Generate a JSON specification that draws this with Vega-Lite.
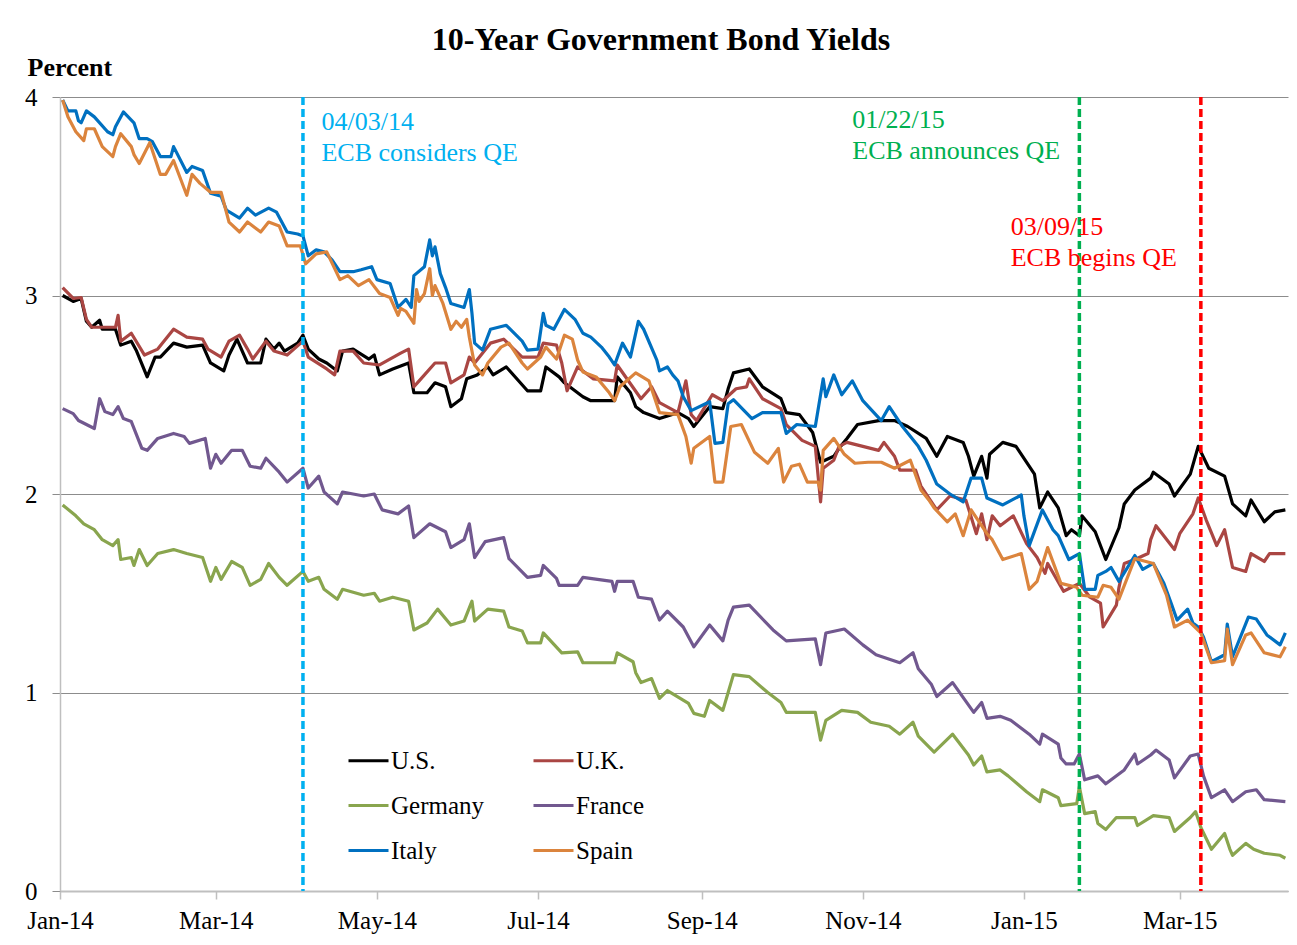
{
"$schema":"https://vega.github.io/schema/vega-lite/v6.json",
"autosize":"none",
"width":1228,"height":794,
"padding":{"left":60,"top":97,"right":9,"bottom":54},
"background":"white",
"title":{"text":"10-Year Government Bond Yields","font":"Liberation Serif","fontSize":32,"fontWeight":"bold","color":"#000000","anchor":"middle","frame":"group","dx":-13,"offset":-3},
"config":{"view":{"stroke":null},"font":"Liberation Serif"},
"resolve":{"axis":{"x":"independent","y":"independent"}},
"layer":[
{"data":{"values":[
{"d":"2014-01-02","c":"U.S.","v":3.00},{"d":"2014-01-06","c":"U.S.","v":2.97},{"d":"2014-01-09","c":"U.S.","v":2.985},{"d":"2014-01-11","c":"U.S.","v":2.87},{"d":"2014-01-13","c":"U.S.","v":2.84},{"d":"2014-01-16","c":"U.S.","v":2.875},{"d":"2014-01-17","c":"U.S.","v":2.83},{"d":"2014-01-22","c":"U.S.","v":2.83},{"d":"2014-01-24","c":"U.S.","v":2.75},{"d":"2014-01-28","c":"U.S.","v":2.77},{"d":"2014-01-30","c":"U.S.","v":2.72},{"d":"2014-02-03","c":"U.S.","v":2.59},{"d":"2014-02-06","c":"U.S.","v":2.69},{"d":"2014-02-08","c":"U.S.","v":2.69},{"d":"2014-02-13","c":"U.S.","v":2.76},{"d":"2014-02-18","c":"U.S.","v":2.74},{"d":"2014-02-24","c":"U.S.","v":2.75},{"d":"2014-02-27","c":"U.S.","v":2.66},{"d":"2014-03-04","c":"U.S.","v":2.62},{"d":"2014-03-06","c":"U.S.","v":2.70},{"d":"2014-03-09","c":"U.S.","v":2.78},{"d":"2014-03-13","c":"U.S.","v":2.66},{"d":"2014-03-18","c":"U.S.","v":2.66},{"d":"2014-03-20","c":"U.S.","v":2.78},{"d":"2014-03-23","c":"U.S.","v":2.73},{"d":"2014-03-25","c":"U.S.","v":2.76},{"d":"2014-03-27","c":"U.S.","v":2.72},{"d":"2014-04-01","c":"U.S.","v":2.76},{"d":"2014-04-03","c":"U.S.","v":2.80},{"d":"2014-04-05","c":"U.S.","v":2.73},{"d":"2014-04-09","c":"U.S.","v":2.68},{"d":"2014-04-12","c":"U.S.","v":2.66},{"d":"2014-04-16","c":"U.S.","v":2.62},{"d":"2014-04-18","c":"U.S.","v":2.72},{"d":"2014-04-22","c":"U.S.","v":2.73},{"d":"2014-04-28","c":"U.S.","v":2.68},{"d":"2014-04-30","c":"U.S.","v":2.70},{"d":"2014-05-02","c":"U.S.","v":2.60},{"d":"2014-05-07","c":"U.S.","v":2.63},{"d":"2014-05-13","c":"U.S.","v":2.66},{"d":"2014-05-15","c":"U.S.","v":2.51},{"d":"2014-05-20","c":"U.S.","v":2.51},{"d":"2014-05-23","c":"U.S.","v":2.56},{"d":"2014-05-27","c":"U.S.","v":2.54},{"d":"2014-05-29","c":"U.S.","v":2.44},{"d":"2014-06-02","c":"U.S.","v":2.48},{"d":"2014-06-04","c":"U.S.","v":2.58},{"d":"2014-06-08","c":"U.S.","v":2.60},{"d":"2014-06-12","c":"U.S.","v":2.64},{"d":"2014-06-14","c":"U.S.","v":2.60},{"d":"2014-06-19","c":"U.S.","v":2.64},{"d":"2014-06-27","c":"U.S.","v":2.52},{"d":"2014-07-02","c":"U.S.","v":2.52},{"d":"2014-07-04","c":"U.S.","v":2.64},{"d":"2014-07-09","c":"U.S.","v":2.59},{"d":"2014-07-11","c":"U.S.","v":2.56},{"d":"2014-07-18","c":"U.S.","v":2.49},{"d":"2014-07-21","c":"U.S.","v":2.47},{"d":"2014-07-30","c":"U.S.","v":2.47},{"d":"2014-07-31","c":"U.S.","v":2.59},{"d":"2014-08-05","c":"U.S.","v":2.51},{"d":"2014-08-07","c":"U.S.","v":2.44},{"d":"2014-08-10","c":"U.S.","v":2.41},{"d":"2014-08-16","c":"U.S.","v":2.38},{"d":"2014-08-23","c":"U.S.","v":2.41},{"d":"2014-08-27","c":"U.S.","v":2.38},{"d":"2014-08-29","c":"U.S.","v":2.34},{"d":"2014-09-04","c":"U.S.","v":2.44},{"d":"2014-09-09","c":"U.S.","v":2.43},{"d":"2014-09-11","c":"U.S.","v":2.53},{"d":"2014-09-13","c":"U.S.","v":2.61},{"d":"2014-09-19","c":"U.S.","v":2.63},{"d":"2014-09-24","c":"U.S.","v":2.54},{"d":"2014-10-01","c":"U.S.","v":2.48},{"d":"2014-10-03","c":"U.S.","v":2.41},{"d":"2014-10-08","c":"U.S.","v":2.40},{"d":"2014-10-13","c":"U.S.","v":2.31},{"d":"2014-10-16","c":"U.S.","v":2.16},{"d":"2014-10-21","c":"U.S.","v":2.19},{"d":"2014-10-23","c":"U.S.","v":2.23},{"d":"2014-10-26","c":"U.S.","v":2.28},{"d":"2014-10-30","c":"U.S.","v":2.35},{"d":"2014-11-07","c":"U.S.","v":2.37},{"d":"2014-11-13","c":"U.S.","v":2.37},{"d":"2014-11-18","c":"U.S.","v":2.34},{"d":"2014-11-25","c":"U.S.","v":2.28},{"d":"2014-11-29","c":"U.S.","v":2.19},{"d":"2014-12-03","c":"U.S.","v":2.29},{"d":"2014-12-09","c":"U.S.","v":2.26},{"d":"2014-12-11","c":"U.S.","v":2.19},{"d":"2014-12-13","c":"U.S.","v":2.09},{"d":"2014-12-16","c":"U.S.","v":2.19},{"d":"2014-12-18","c":"U.S.","v":2.08},{"d":"2014-12-19","c":"U.S.","v":2.20},{"d":"2014-12-24","c":"U.S.","v":2.26},{"d":"2014-12-29","c":"U.S.","v":2.24},{"d":"2015-01-05","c":"U.S.","v":2.10},{"d":"2015-01-07","c":"U.S.","v":1.93},{"d":"2015-01-10","c":"U.S.","v":2.01},{"d":"2015-01-14","c":"U.S.","v":1.93},{"d":"2015-01-17","c":"U.S.","v":1.79},{"d":"2015-01-19","c":"U.S.","v":1.82},{"d":"2015-01-22","c":"U.S.","v":1.79},{"d":"2015-01-23","c":"U.S.","v":1.89},{"d":"2015-01-28","c":"U.S.","v":1.81},{"d":"2015-02-01","c":"U.S.","v":1.67},{"d":"2015-02-06","c":"U.S.","v":1.83},{"d":"2015-02-08","c":"U.S.","v":1.95},{"d":"2015-02-12","c":"U.S.","v":2.02},{"d":"2015-02-18","c":"U.S.","v":2.08},{"d":"2015-02-19","c":"U.S.","v":2.11},{"d":"2015-02-25","c":"U.S.","v":2.05},{"d":"2015-02-27","c":"U.S.","v":1.99},{"d":"2015-03-05","c":"U.S.","v":2.10},{"d":"2015-03-08","c":"U.S.","v":2.24},{"d":"2015-03-12","c":"U.S.","v":2.13},{"d":"2015-03-18","c":"U.S.","v":2.09},{"d":"2015-03-21","c":"U.S.","v":1.95},{"d":"2015-03-26","c":"U.S.","v":1.89},{"d":"2015-03-28","c":"U.S.","v":1.97},{"d":"2015-04-02","c":"U.S.","v":1.86},{"d":"2015-04-06","c":"U.S.","v":1.91},{"d":"2015-04-10","c":"U.S.","v":1.92},
{"d":"2014-01-02","c":"U.K.","v":3.04},{"d":"2014-01-06","c":"U.K.","v":2.985},{"d":"2014-01-09","c":"U.K.","v":2.99},{"d":"2014-01-11","c":"U.K.","v":2.88},{"d":"2014-01-13","c":"U.K.","v":2.84},{"d":"2014-01-22","c":"U.K.","v":2.84},{"d":"2014-01-23","c":"U.K.","v":2.90},{"d":"2014-01-24","c":"U.K.","v":2.77},{"d":"2014-01-28","c":"U.K.","v":2.81},{"d":"2014-02-02","c":"U.K.","v":2.70},{"d":"2014-02-07","c":"U.K.","v":2.73},{"d":"2014-02-13","c":"U.K.","v":2.83},{"d":"2014-02-18","c":"U.K.","v":2.79},{"d":"2014-02-24","c":"U.K.","v":2.78},{"d":"2014-02-26","c":"U.K.","v":2.73},{"d":"2014-03-03","c":"U.K.","v":2.69},{"d":"2014-03-06","c":"U.K.","v":2.77},{"d":"2014-03-10","c":"U.K.","v":2.80},{"d":"2014-03-13","c":"U.K.","v":2.73},{"d":"2014-03-15","c":"U.K.","v":2.68},{"d":"2014-03-20","c":"U.K.","v":2.77},{"d":"2014-03-23","c":"U.K.","v":2.72},{"d":"2014-03-28","c":"U.K.","v":2.70},{"d":"2014-04-03","c":"U.K.","v":2.77},{"d":"2014-04-05","c":"U.K.","v":2.69},{"d":"2014-04-12","c":"U.K.","v":2.63},{"d":"2014-04-15","c":"U.K.","v":2.60},{"d":"2014-04-17","c":"U.K.","v":2.72},{"d":"2014-04-22","c":"U.K.","v":2.72},{"d":"2014-04-26","c":"U.K.","v":2.66},{"d":"2014-05-02","c":"U.K.","v":2.65},{"d":"2014-05-10","c":"U.K.","v":2.71},{"d":"2014-05-13","c":"U.K.","v":2.73},{"d":"2014-05-15","c":"U.K.","v":2.54},{"d":"2014-05-17","c":"U.K.","v":2.57},{"d":"2014-05-23","c":"U.K.","v":2.66},{"d":"2014-05-27","c":"U.K.","v":2.66},{"d":"2014-05-29","c":"U.K.","v":2.56},{"d":"2014-06-03","c":"U.K.","v":2.60},{"d":"2014-06-05","c":"U.K.","v":2.69},{"d":"2014-06-07","c":"U.K.","v":2.66},{"d":"2014-06-13","c":"U.K.","v":2.76},{"d":"2014-06-18","c":"U.K.","v":2.78},{"d":"2014-06-25","c":"U.K.","v":2.69},{"d":"2014-07-01","c":"U.K.","v":2.69},{"d":"2014-07-03","c":"U.K.","v":2.76},{"d":"2014-07-08","c":"U.K.","v":2.75},{"d":"2014-07-10","c":"U.K.","v":2.66},{"d":"2014-07-12","c":"U.K.","v":2.52},{"d":"2014-07-16","c":"U.K.","v":2.64},{"d":"2014-07-22","c":"U.K.","v":2.58},{"d":"2014-07-30","c":"U.K.","v":2.57},{"d":"2014-07-31","c":"U.K.","v":2.65},{"d":"2014-08-09","c":"U.K.","v":2.48},{"d":"2014-08-13","c":"U.K.","v":2.54},{"d":"2014-08-16","c":"U.K.","v":2.46},{"d":"2014-08-23","c":"U.K.","v":2.41},{"d":"2014-08-26","c":"U.K.","v":2.57},{"d":"2014-08-28","c":"U.K.","v":2.40},{"d":"2014-08-30","c":"U.K.","v":2.37},{"d":"2014-09-05","c":"U.K.","v":2.50},{"d":"2014-09-09","c":"U.K.","v":2.47},{"d":"2014-09-14","c":"U.K.","v":2.53},{"d":"2014-09-18","c":"U.K.","v":2.54},{"d":"2014-09-19","c":"U.K.","v":2.58},{"d":"2014-09-24","c":"U.K.","v":2.48},{"d":"2014-10-01","c":"U.K.","v":2.43},{"d":"2014-10-03","c":"U.K.","v":2.35},{"d":"2014-10-09","c":"U.K.","v":2.27},{"d":"2014-10-14","c":"U.K.","v":2.24},{"d":"2014-10-16","c":"U.K.","v":1.96},{"d":"2014-10-17","c":"U.K.","v":2.13},{"d":"2014-10-21","c":"U.K.","v":2.17},{"d":"2014-10-23","c":"U.K.","v":2.24},{"d":"2014-10-26","c":"U.K.","v":2.26},{"d":"2014-11-07","c":"U.K.","v":2.22},{"d":"2014-11-09","c":"U.K.","v":2.26},{"d":"2014-11-13","c":"U.K.","v":2.19},{"d":"2014-11-15","c":"U.K.","v":2.12},{"d":"2014-11-21","c":"U.K.","v":2.12},{"d":"2014-11-23","c":"U.K.","v":2.04},{"d":"2014-11-29","c":"U.K.","v":1.92},{"d":"2014-12-04","c":"U.K.","v":1.99},{"d":"2014-12-10","c":"U.K.","v":1.97},{"d":"2014-12-14","c":"U.K.","v":1.80},{"d":"2014-12-16","c":"U.K.","v":1.90},{"d":"2014-12-18","c":"U.K.","v":1.77},{"d":"2014-12-20","c":"U.K.","v":1.89},{"d":"2014-12-23","c":"U.K.","v":1.84},{"d":"2014-12-28","c":"U.K.","v":1.89},{"d":"2015-01-02","c":"U.K.","v":1.75},{"d":"2015-01-06","c":"U.K.","v":1.68},{"d":"2015-01-09","c":"U.K.","v":1.60},{"d":"2015-01-10","c":"U.K.","v":1.65},{"d":"2015-01-16","c":"U.K.","v":1.51},{"d":"2015-01-22","c":"U.K.","v":1.55},{"d":"2015-01-26","c":"U.K.","v":1.48},{"d":"2015-01-30","c":"U.K.","v":1.45},{"d":"2015-01-31","c":"U.K.","v":1.33},{"d":"2015-02-05","c":"U.K.","v":1.44},{"d":"2015-02-06","c":"U.K.","v":1.53},{"d":"2015-02-08","c":"U.K.","v":1.65},{"d":"2015-02-12","c":"U.K.","v":1.67},{"d":"2015-02-17","c":"U.K.","v":1.70},{"d":"2015-02-18","c":"U.K.","v":1.77},{"d":"2015-02-20","c":"U.K.","v":1.84},{"d":"2015-02-27","c":"U.K.","v":1.72},{"d":"2015-03-01","c":"U.K.","v":1.80},{"d":"2015-03-06","c":"U.K.","v":1.90},{"d":"2015-03-08","c":"U.K.","v":1.98},{"d":"2015-03-11","c":"U.K.","v":1.87},{"d":"2015-03-15","c":"U.K.","v":1.74},{"d":"2015-03-18","c":"U.K.","v":1.82},{"d":"2015-03-21","c":"U.K.","v":1.63},{"d":"2015-03-26","c":"U.K.","v":1.61},{"d":"2015-03-28","c":"U.K.","v":1.70},{"d":"2015-04-02","c":"U.K.","v":1.66},{"d":"2015-04-04","c":"U.K.","v":1.70},{"d":"2015-04-10","c":"U.K.","v":1.70},
{"d":"2014-01-02","c":"Germany","v":1.945},{"d":"2014-01-07","c":"Germany","v":1.89},{"d":"2014-01-10","c":"Germany","v":1.85},{"d":"2014-01-14","c":"Germany","v":1.82},{"d":"2014-01-17","c":"Germany","v":1.77},{"d":"2014-01-21","c":"Germany","v":1.74},{"d":"2014-01-23","c":"Germany","v":1.77},{"d":"2014-01-24","c":"Germany","v":1.67},{"d":"2014-01-28","c":"Germany","v":1.68},{"d":"2014-01-29","c":"Germany","v":1.64},{"d":"2014-01-31","c":"Germany","v":1.72},{"d":"2014-02-03","c":"Germany","v":1.64},{"d":"2014-02-07","c":"Germany","v":1.70},{"d":"2014-02-13","c":"Germany","v":1.72},{"d":"2014-02-18","c":"Germany","v":1.70},{"d":"2014-02-24","c":"Germany","v":1.68},{"d":"2014-02-27","c":"Germany","v":1.56},{"d":"2014-03-01","c":"Germany","v":1.63},{"d":"2014-03-03","c":"Germany","v":1.57},{"d":"2014-03-07","c":"Germany","v":1.66},{"d":"2014-03-11","c":"Germany","v":1.63},{"d":"2014-03-14","c":"Germany","v":1.54},{"d":"2014-03-18","c":"Germany","v":1.57},{"d":"2014-03-21","c":"Germany","v":1.65},{"d":"2014-03-25","c":"Germany","v":1.58},{"d":"2014-03-28","c":"Germany","v":1.54},{"d":"2014-04-03","c":"Germany","v":1.61},{"d":"2014-04-05","c":"Germany","v":1.56},{"d":"2014-04-09","c":"Germany","v":1.58},{"d":"2014-04-11","c":"Germany","v":1.52},{"d":"2014-04-16","c":"Germany","v":1.47},{"d":"2014-04-18","c":"Germany","v":1.52},{"d":"2014-04-26","c":"Germany","v":1.49},{"d":"2014-04-30","c":"Germany","v":1.50},{"d":"2014-05-02","c":"Germany","v":1.46},{"d":"2014-05-07","c":"Germany","v":1.48},{"d":"2014-05-13","c":"Germany","v":1.46},{"d":"2014-05-15","c":"Germany","v":1.315},{"d":"2014-05-20","c":"Germany","v":1.35},{"d":"2014-05-24","c":"Germany","v":1.42},{"d":"2014-05-29","c":"Germany","v":1.34},{"d":"2014-06-03","c":"Germany","v":1.36},{"d":"2014-06-06","c":"Germany","v":1.46},{"d":"2014-06-07","c":"Germany","v":1.36},{"d":"2014-06-12","c":"Germany","v":1.42},{"d":"2014-06-18","c":"Germany","v":1.41},{"d":"2014-06-20","c":"Germany","v":1.33},{"d":"2014-06-25","c":"Germany","v":1.31},{"d":"2014-06-27","c":"Germany","v":1.25},{"d":"2014-07-02","c":"Germany","v":1.25},{"d":"2014-07-03","c":"Germany","v":1.30},{"d":"2014-07-10","c":"Germany","v":1.20},{"d":"2014-07-16","c":"Germany","v":1.205},{"d":"2014-07-18","c":"Germany","v":1.15},{"d":"2014-07-30","c":"Germany","v":1.15},{"d":"2014-07-31","c":"Germany","v":1.20},{"d":"2014-08-06","c":"Germany","v":1.155},{"d":"2014-08-07","c":"Germany","v":1.10},{"d":"2014-08-09","c":"Germany","v":1.05},{"d":"2014-08-13","c":"Germany","v":1.07},{"d":"2014-08-16","c":"Germany","v":0.97},{"d":"2014-08-19","c":"Germany","v":1.01},{"d":"2014-08-27","c":"Germany","v":0.945},{"d":"2014-08-29","c":"Germany","v":0.895},{"d":"2014-09-02","c":"Germany","v":0.88},{"d":"2014-09-04","c":"Germany","v":0.96},{"d":"2014-09-09","c":"Germany","v":0.91},{"d":"2014-09-11","c":"Germany","v":1.00},{"d":"2014-09-13","c":"Germany","v":1.09},{"d":"2014-09-19","c":"Germany","v":1.08},{"d":"2014-09-26","c":"Germany","v":1.00},{"d":"2014-10-01","c":"Germany","v":0.95},{"d":"2014-10-03","c":"Germany","v":0.90},{"d":"2014-10-14","c":"Germany","v":0.90},{"d":"2014-10-16","c":"Germany","v":0.76},{"d":"2014-10-18","c":"Germany","v":0.86},{"d":"2014-10-24","c":"Germany","v":0.91},{"d":"2014-10-30","c":"Germany","v":0.90},{"d":"2014-11-04","c":"Germany","v":0.85},{"d":"2014-11-11","c":"Germany","v":0.83},{"d":"2014-11-15","c":"Germany","v":0.79},{"d":"2014-11-20","c":"Germany","v":0.85},{"d":"2014-11-22","c":"Germany","v":0.78},{"d":"2014-11-28","c":"Germany","v":0.70},{"d":"2014-12-05","c":"Germany","v":0.79},{"d":"2014-12-11","c":"Germany","v":0.685},{"d":"2014-12-13","c":"Germany","v":0.635},{"d":"2014-12-16","c":"Germany","v":0.68},{"d":"2014-12-18","c":"Germany","v":0.60},{"d":"2014-12-23","c":"Germany","v":0.61},{"d":"2014-12-26","c":"Germany","v":0.58},{"d":"2015-01-02","c":"Germany","v":0.50},{"d":"2015-01-07","c":"Germany","v":0.45},{"d":"2015-01-08","c":"Germany","v":0.51},{"d":"2015-01-14","c":"Germany","v":0.47},{"d":"2015-01-15","c":"Germany","v":0.43},{"d":"2015-01-21","c":"Germany","v":0.44},{"d":"2015-01-22","c":"Germany","v":0.525},{"d":"2015-01-24","c":"Germany","v":0.39},{"d":"2015-01-28","c":"Germany","v":0.40},{"d":"2015-01-29","c":"Germany","v":0.34},{"d":"2015-02-01","c":"Germany","v":0.31},{"d":"2015-02-05","c":"Germany","v":0.37},{"d":"2015-02-12","c":"Germany","v":0.37},{"d":"2015-02-13","c":"Germany","v":0.33},{"d":"2015-02-19","c":"Germany","v":0.38},{"d":"2015-02-25","c":"Germany","v":0.37},{"d":"2015-02-27","c":"Germany","v":0.30},{"d":"2015-03-05","c":"Germany","v":0.37},{"d":"2015-03-07","c":"Germany","v":0.40},{"d":"2015-03-09","c":"Germany","v":0.32},{"d":"2015-03-13","c":"Germany","v":0.21},{"d":"2015-03-18","c":"Germany","v":0.29},{"d":"2015-03-20","c":"Germany","v":0.21},{"d":"2015-03-21","c":"Germany","v":0.18},{"d":"2015-03-26","c":"Germany","v":0.24},{"d":"2015-03-29","c":"Germany","v":0.21},{"d":"2015-04-02","c":"Germany","v":0.19},{"d":"2015-04-08","c":"Germany","v":0.18},{"d":"2015-04-10","c":"Germany","v":0.165},
{"d":"2014-01-02","c":"France","v":2.43},{"d":"2014-01-06","c":"France","v":2.405},{"d":"2014-01-08","c":"France","v":2.37},{"d":"2014-01-14","c":"France","v":2.33},{"d":"2014-01-16","c":"France","v":2.48},{"d":"2014-01-18","c":"France","v":2.415},{"d":"2014-01-21","c":"France","v":2.40},{"d":"2014-01-23","c":"France","v":2.44},{"d":"2014-01-25","c":"France","v":2.38},{"d":"2014-01-28","c":"France","v":2.365},{"d":"2014-02-01","c":"France","v":2.23},{"d":"2014-02-03","c":"France","v":2.22},{"d":"2014-02-07","c":"France","v":2.28},{"d":"2014-02-13","c":"France","v":2.305},{"d":"2014-02-17","c":"France","v":2.29},{"d":"2014-02-19","c":"France","v":2.255},{"d":"2014-02-25","c":"France","v":2.28},{"d":"2014-02-27","c":"France","v":2.13},{"d":"2014-03-01","c":"France","v":2.20},{"d":"2014-03-03","c":"France","v":2.155},{"d":"2014-03-07","c":"France","v":2.22},{"d":"2014-03-11","c":"France","v":2.22},{"d":"2014-03-14","c":"France","v":2.14},{"d":"2014-03-18","c":"France","v":2.13},{"d":"2014-03-20","c":"France","v":2.18},{"d":"2014-03-25","c":"France","v":2.11},{"d":"2014-03-28","c":"France","v":2.06},{"d":"2014-04-03","c":"France","v":2.13},{"d":"2014-04-05","c":"France","v":2.03},{"d":"2014-04-09","c":"France","v":2.09},{"d":"2014-04-11","c":"France","v":2.01},{"d":"2014-04-16","c":"France","v":1.95},{"d":"2014-04-18","c":"France","v":2.01},{"d":"2014-04-26","c":"France","v":1.99},{"d":"2014-04-30","c":"France","v":2.00},{"d":"2014-05-03","c":"France","v":1.92},{"d":"2014-05-09","c":"France","v":1.90},{"d":"2014-05-13","c":"France","v":1.94},{"d":"2014-05-15","c":"France","v":1.78},{"d":"2014-05-21","c":"France","v":1.85},{"d":"2014-05-27","c":"France","v":1.81},{"d":"2014-05-29","c":"France","v":1.73},{"d":"2014-06-03","c":"France","v":1.77},{"d":"2014-06-05","c":"France","v":1.85},{"d":"2014-06-07","c":"France","v":1.68},{"d":"2014-06-11","c":"France","v":1.76},{"d":"2014-06-18","c":"France","v":1.78},{"d":"2014-06-20","c":"France","v":1.675},{"d":"2014-06-27","c":"France","v":1.58},{"d":"2014-07-02","c":"France","v":1.59},{"d":"2014-07-03","c":"France","v":1.64},{"d":"2014-07-08","c":"France","v":1.575},{"d":"2014-07-09","c":"France","v":1.54},{"d":"2014-07-16","c":"France","v":1.54},{"d":"2014-07-18","c":"France","v":1.58},{"d":"2014-07-29","c":"France","v":1.56},{"d":"2014-07-30","c":"France","v":1.51},{"d":"2014-07-31","c":"France","v":1.56},{"d":"2014-08-06","c":"France","v":1.56},{"d":"2014-08-08","c":"France","v":1.48},{"d":"2014-08-13","c":"France","v":1.47},{"d":"2014-08-16","c":"France","v":1.365},{"d":"2014-08-19","c":"France","v":1.41},{"d":"2014-08-25","c":"France","v":1.33},{"d":"2014-08-29","c":"France","v":1.23},{"d":"2014-09-04","c":"France","v":1.34},{"d":"2014-09-09","c":"France","v":1.26},{"d":"2014-09-11","c":"France","v":1.365},{"d":"2014-09-13","c":"France","v":1.43},{"d":"2014-09-19","c":"France","v":1.44},{"d":"2014-09-28","c":"France","v":1.315},{"d":"2014-10-03","c":"France","v":1.26},{"d":"2014-10-14","c":"France","v":1.27},{"d":"2014-10-16","c":"France","v":1.14},{"d":"2014-10-18","c":"France","v":1.30},{"d":"2014-10-25","c":"France","v":1.32},{"d":"2014-11-01","c":"France","v":1.24},{"d":"2014-11-06","c":"France","v":1.19},{"d":"2014-11-15","c":"France","v":1.15},{"d":"2014-11-20","c":"France","v":1.20},{"d":"2014-11-22","c":"France","v":1.12},{"d":"2014-11-27","c":"France","v":1.04},{"d":"2014-11-29","c":"France","v":0.98},{"d":"2014-12-05","c":"France","v":1.05},{"d":"2014-12-13","c":"France","v":0.90},{"d":"2014-12-16","c":"France","v":0.95},{"d":"2014-12-18","c":"France","v":0.87},{"d":"2014-12-23","c":"France","v":0.88},{"d":"2014-12-27","c":"France","v":0.86},{"d":"2015-01-03","c":"France","v":0.79},{"d":"2015-01-07","c":"France","v":0.74},{"d":"2015-01-08","c":"France","v":0.79},{"d":"2015-01-14","c":"France","v":0.74},{"d":"2015-01-15","c":"France","v":0.67},{"d":"2015-01-17","c":"France","v":0.64},{"d":"2015-01-20","c":"France","v":0.64},{"d":"2015-01-22","c":"France","v":0.69},{"d":"2015-01-24","c":"France","v":0.56},{"d":"2015-01-29","c":"France","v":0.58},{"d":"2015-02-01","c":"France","v":0.54},{"d":"2015-02-08","c":"France","v":0.61},{"d":"2015-02-12","c":"France","v":0.69},{"d":"2015-02-13","c":"France","v":0.64},{"d":"2015-02-18","c":"France","v":0.685},{"d":"2015-02-20","c":"France","v":0.71},{"d":"2015-02-25","c":"France","v":0.66},{"d":"2015-02-27","c":"France","v":0.57},{"d":"2015-03-05","c":"France","v":0.68},{"d":"2015-03-08","c":"France","v":0.69},{"d":"2015-03-10","c":"France","v":0.58},{"d":"2015-03-13","c":"France","v":0.47},{"d":"2015-03-18","c":"France","v":0.51},{"d":"2015-03-21","c":"France","v":0.45},{"d":"2015-03-26","c":"France","v":0.50},{"d":"2015-03-30","c":"France","v":0.51},{"d":"2015-04-02","c":"France","v":0.46},{"d":"2015-04-10","c":"France","v":0.45},
{"d":"2014-01-02","c":"Italy","v":3.985},{"d":"2014-01-04","c":"Italy","v":3.93},{"d":"2014-01-07","c":"Italy","v":3.93},{"d":"2014-01-08","c":"Italy","v":3.88},{"d":"2014-01-09","c":"Italy","v":3.87},{"d":"2014-01-11","c":"Italy","v":3.93},{"d":"2014-01-14","c":"Italy","v":3.90},{"d":"2014-01-19","c":"Italy","v":3.825},{"d":"2014-01-21","c":"Italy","v":3.81},{"d":"2014-01-22","c":"Italy","v":3.85},{"d":"2014-01-25","c":"Italy","v":3.925},{"d":"2014-01-29","c":"Italy","v":3.87},{"d":"2014-01-31","c":"Italy","v":3.79},{"d":"2014-02-03","c":"Italy","v":3.79},{"d":"2014-02-05","c":"Italy","v":3.775},{"d":"2014-02-08","c":"Italy","v":3.70},{"d":"2014-02-12","c":"Italy","v":3.70},{"d":"2014-02-13","c":"Italy","v":3.75},{"d":"2014-02-18","c":"Italy","v":3.62},{"d":"2014-02-20","c":"Italy","v":3.65},{"d":"2014-02-24","c":"Italy","v":3.63},{"d":"2014-02-27","c":"Italy","v":3.515},{"d":"2014-03-03","c":"Italy","v":3.50},{"d":"2014-03-05","c":"Italy","v":3.43},{"d":"2014-03-10","c":"Italy","v":3.39},{"d":"2014-03-13","c":"Italy","v":3.44},{"d":"2014-03-16","c":"Italy","v":3.405},{"d":"2014-03-21","c":"Italy","v":3.44},{"d":"2014-03-24","c":"Italy","v":3.42},{"d":"2014-03-28","c":"Italy","v":3.32},{"d":"2014-04-01","c":"Italy","v":3.31},{"d":"2014-04-03","c":"Italy","v":3.30},{"d":"2014-04-05","c":"Italy","v":3.20},{"d":"2014-04-08","c":"Italy","v":3.23},{"d":"2014-04-11","c":"Italy","v":3.22},{"d":"2014-04-14","c":"Italy","v":3.18},{"d":"2014-04-17","c":"Italy","v":3.12},{"d":"2014-04-22","c":"Italy","v":3.12},{"d":"2014-04-25","c":"Italy","v":3.13},{"d":"2014-04-29","c":"Italy","v":3.145},{"d":"2014-05-01","c":"Italy","v":3.08},{"d":"2014-05-06","c":"Italy","v":3.06},{"d":"2014-05-09","c":"Italy","v":2.94},{"d":"2014-05-12","c":"Italy","v":2.98},{"d":"2014-05-14","c":"Italy","v":2.94},{"d":"2014-05-15","c":"Italy","v":3.10},{"d":"2014-05-19","c":"Italy","v":3.145},{"d":"2014-05-21","c":"Italy","v":3.28},{"d":"2014-05-22","c":"Italy","v":3.20},{"d":"2014-05-23","c":"Italy","v":3.245},{"d":"2014-05-25","c":"Italy","v":3.11},{"d":"2014-05-27","c":"Italy","v":3.04},{"d":"2014-05-29","c":"Italy","v":2.96},{"d":"2014-06-03","c":"Italy","v":2.94},{"d":"2014-06-05","c":"Italy","v":3.03},{"d":"2014-06-06","c":"Italy","v":2.91},{"d":"2014-06-07","c":"Italy","v":2.76},{"d":"2014-06-10","c":"Italy","v":2.725},{"d":"2014-06-13","c":"Italy","v":2.83},{"d":"2014-06-19","c":"Italy","v":2.85},{"d":"2014-06-25","c":"Italy","v":2.77},{"d":"2014-06-27","c":"Italy","v":2.725},{"d":"2014-07-01","c":"Italy","v":2.73},{"d":"2014-07-03","c":"Italy","v":2.91},{"d":"2014-07-04","c":"Italy","v":2.85},{"d":"2014-07-07","c":"Italy","v":2.83},{"d":"2014-07-11","c":"Italy","v":2.93},{"d":"2014-07-15","c":"Italy","v":2.88},{"d":"2014-07-18","c":"Italy","v":2.81},{"d":"2014-07-21","c":"Italy","v":2.79},{"d":"2014-07-25","c":"Italy","v":2.74},{"d":"2014-07-28","c":"Italy","v":2.69},{"d":"2014-07-30","c":"Italy","v":2.65},{"d":"2014-08-02","c":"Italy","v":2.76},{"d":"2014-08-05","c":"Italy","v":2.69},{"d":"2014-08-08","c":"Italy","v":2.87},{"d":"2014-08-10","c":"Italy","v":2.83},{"d":"2014-08-15","c":"Italy","v":2.675},{"d":"2014-08-16","c":"Italy","v":2.62},{"d":"2014-08-19","c":"Italy","v":2.64},{"d":"2014-08-21","c":"Italy","v":2.60},{"d":"2014-08-23","c":"Italy","v":2.57},{"d":"2014-08-25","c":"Italy","v":2.49},{"d":"2014-08-28","c":"Italy","v":2.42},{"d":"2014-09-04","c":"Italy","v":2.465},{"d":"2014-09-06","c":"Italy","v":2.255},{"d":"2014-09-09","c":"Italy","v":2.26},{"d":"2014-09-11","c":"Italy","v":2.455},{"d":"2014-09-13","c":"Italy","v":2.475},{"d":"2014-09-20","c":"Italy","v":2.38},{"d":"2014-09-24","c":"Italy","v":2.41},{"d":"2014-10-01","c":"Italy","v":2.41},{"d":"2014-10-03","c":"Italy","v":2.305},{"d":"2014-10-07","c":"Italy","v":2.35},{"d":"2014-10-14","c":"Italy","v":2.34},{"d":"2014-10-17","c":"Italy","v":2.58},{"d":"2014-10-18","c":"Italy","v":2.49},{"d":"2014-10-21","c":"Italy","v":2.60},{"d":"2014-10-24","c":"Italy","v":2.50},{"d":"2014-10-28","c":"Italy","v":2.57},{"d":"2014-11-01","c":"Italy","v":2.47},{"d":"2014-11-08","c":"Italy","v":2.37},{"d":"2014-11-11","c":"Italy","v":2.44},{"d":"2014-11-16","c":"Italy","v":2.34},{"d":"2014-11-22","c":"Italy","v":2.24},{"d":"2014-11-25","c":"Italy","v":2.17},{"d":"2014-11-29","c":"Italy","v":2.05},{"d":"2014-12-04","c":"Italy","v":2.00},{"d":"2014-12-09","c":"Italy","v":1.96},{"d":"2014-12-12","c":"Italy","v":2.08},{"d":"2014-12-16","c":"Italy","v":2.08},{"d":"2014-12-18","c":"Italy","v":1.98},{"d":"2014-12-24","c":"Italy","v":1.945},{"d":"2014-12-31","c":"Italy","v":1.995},{"d":"2015-01-01","c":"Italy","v":1.89},{"d":"2015-01-03","c":"Italy","v":1.74},{"d":"2015-01-08","c":"Italy","v":1.92},{"d":"2015-01-12","c":"Italy","v":1.82},{"d":"2015-01-14","c":"Italy","v":1.79},{"d":"2015-01-18","c":"Italy","v":1.67},{"d":"2015-01-22","c":"Italy","v":1.70},{"d":"2015-01-24","c":"Italy","v":1.52},{"d":"2015-01-28","c":"Italy","v":1.52},{"d":"2015-01-29","c":"Italy","v":1.59},{"d":"2015-02-01","c":"Italy","v":1.61},{"d":"2015-02-03","c":"Italy","v":1.63},{"d":"2015-02-06","c":"Italy","v":1.56},{"d":"2015-02-12","c":"Italy","v":1.69},{"d":"2015-02-15","c":"Italy","v":1.62},{"d":"2015-02-19","c":"Italy","v":1.65},{"d":"2015-02-23","c":"Italy","v":1.55},{"d":"2015-02-26","c":"Italy","v":1.44},{"d":"2015-02-28","c":"Italy","v":1.365},{"d":"2015-03-04","c":"Italy","v":1.42},{"d":"2015-03-06","c":"Italy","v":1.35},{"d":"2015-03-08","c":"Italy","v":1.33},{"d":"2015-03-10","c":"Italy","v":1.28},{"d":"2015-03-13","c":"Italy","v":1.155},{"d":"2015-03-18","c":"Italy","v":1.19},{"d":"2015-03-19","c":"Italy","v":1.345},{"d":"2015-03-21","c":"Italy","v":1.18},{"d":"2015-03-27","c":"Italy","v":1.38},{"d":"2015-03-30","c":"Italy","v":1.37},{"d":"2015-04-03","c":"Italy","v":1.29},{"d":"2015-04-08","c":"Italy","v":1.24},{"d":"2015-04-10","c":"Italy","v":1.30},
{"d":"2014-01-02","c":"Spain","v":3.985},{"d":"2014-01-04","c":"Spain","v":3.90},{"d":"2014-01-07","c":"Spain","v":3.825},{"d":"2014-01-10","c":"Spain","v":3.78},{"d":"2014-01-11","c":"Spain","v":3.84},{"d":"2014-01-14","c":"Spain","v":3.84},{"d":"2014-01-17","c":"Spain","v":3.75},{"d":"2014-01-21","c":"Spain","v":3.70},{"d":"2014-01-22","c":"Spain","v":3.75},{"d":"2014-01-24","c":"Spain","v":3.815},{"d":"2014-01-28","c":"Spain","v":3.75},{"d":"2014-01-29","c":"Spain","v":3.71},{"d":"2014-01-31","c":"Spain","v":3.665},{"d":"2014-02-04","c":"Spain","v":3.77},{"d":"2014-02-08","c":"Spain","v":3.61},{"d":"2014-02-10","c":"Spain","v":3.61},{"d":"2014-02-13","c":"Spain","v":3.68},{"d":"2014-02-18","c":"Spain","v":3.505},{"d":"2014-02-20","c":"Spain","v":3.61},{"d":"2014-02-23","c":"Spain","v":3.565},{"d":"2014-02-27","c":"Spain","v":3.52},{"d":"2014-03-03","c":"Spain","v":3.52},{"d":"2014-03-06","c":"Spain","v":3.37},{"d":"2014-03-10","c":"Spain","v":3.32},{"d":"2014-03-13","c":"Spain","v":3.37},{"d":"2014-03-18","c":"Spain","v":3.32},{"d":"2014-03-21","c":"Spain","v":3.37},{"d":"2014-03-25","c":"Spain","v":3.35},{"d":"2014-03-28","c":"Spain","v":3.25},{"d":"2014-04-02","c":"Spain","v":3.25},{"d":"2014-04-04","c":"Spain","v":3.16},{"d":"2014-04-08","c":"Spain","v":3.21},{"d":"2014-04-12","c":"Spain","v":3.22},{"d":"2014-04-17","c":"Spain","v":3.08},{"d":"2014-04-20","c":"Spain","v":3.10},{"d":"2014-04-24","c":"Spain","v":3.05},{"d":"2014-04-28","c":"Spain","v":3.08},{"d":"2014-05-02","c":"Spain","v":3.01},{"d":"2014-05-06","c":"Spain","v":2.99},{"d":"2014-05-09","c":"Spain","v":2.90},{"d":"2014-05-10","c":"Spain","v":2.935},{"d":"2014-05-12","c":"Spain","v":2.92},{"d":"2014-05-15","c":"Spain","v":2.86},{"d":"2014-05-16","c":"Spain","v":3.03},{"d":"2014-05-17","c":"Spain","v":2.97},{"d":"2014-05-19","c":"Spain","v":3.01},{"d":"2014-05-21","c":"Spain","v":3.135},{"d":"2014-05-22","c":"Spain","v":3.00},{"d":"2014-05-23","c":"Spain","v":3.05},{"d":"2014-05-26","c":"Spain","v":2.96},{"d":"2014-05-29","c":"Spain","v":2.83},{"d":"2014-05-31","c":"Spain","v":2.87},{"d":"2014-06-02","c":"Spain","v":2.84},{"d":"2014-06-04","c":"Spain","v":2.88},{"d":"2014-06-05","c":"Spain","v":2.79},{"d":"2014-06-07","c":"Spain","v":2.65},{"d":"2014-06-10","c":"Spain","v":2.60},{"d":"2014-06-12","c":"Spain","v":2.66},{"d":"2014-06-17","c":"Spain","v":2.74},{"d":"2014-06-20","c":"Spain","v":2.76},{"d":"2014-06-25","c":"Spain","v":2.66},{"d":"2014-06-27","c":"Spain","v":2.63},{"d":"2014-07-02","c":"Spain","v":2.69},{"d":"2014-07-04","c":"Spain","v":2.74},{"d":"2014-07-08","c":"Spain","v":2.68},{"d":"2014-07-11","c":"Spain","v":2.80},{"d":"2014-07-14","c":"Spain","v":2.78},{"d":"2014-07-16","c":"Spain","v":2.675},{"d":"2014-07-18","c":"Spain","v":2.615},{"d":"2014-07-23","c":"Spain","v":2.59},{"d":"2014-07-28","c":"Spain","v":2.51},{"d":"2014-07-30","c":"Spain","v":2.47},{"d":"2014-08-01","c":"Spain","v":2.54},{"d":"2014-08-07","c":"Spain","v":2.61},{"d":"2014-08-12","c":"Spain","v":2.57},{"d":"2014-08-16","c":"Spain","v":2.41},{"d":"2014-08-23","c":"Spain","v":2.40},{"d":"2014-08-26","c":"Spain","v":2.29},{"d":"2014-08-28","c":"Spain","v":2.155},{"d":"2014-08-29","c":"Spain","v":2.23},{"d":"2014-09-04","c":"Spain","v":2.29},{"d":"2014-09-06","c":"Spain","v":2.06},{"d":"2014-09-09","c":"Spain","v":2.06},{"d":"2014-09-12","c":"Spain","v":2.34},{"d":"2014-09-16","c":"Spain","v":2.35},{"d":"2014-09-21","c":"Spain","v":2.21},{"d":"2014-09-26","c":"Spain","v":2.155},{"d":"2014-09-30","c":"Spain","v":2.23},{"d":"2014-10-02","c":"Spain","v":2.06},{"d":"2014-10-05","c":"Spain","v":2.14},{"d":"2014-10-08","c":"Spain","v":2.15},{"d":"2014-10-11","c":"Spain","v":2.06},{"d":"2014-10-15","c":"Spain","v":2.06},{"d":"2014-10-16","c":"Spain","v":2.02},{"d":"2014-10-17","c":"Spain","v":2.22},{"d":"2014-10-21","c":"Spain","v":2.28},{"d":"2014-10-25","c":"Spain","v":2.20},{"d":"2014-10-29","c":"Spain","v":2.155},{"d":"2014-11-03","c":"Spain","v":2.16},{"d":"2014-11-08","c":"Spain","v":2.16},{"d":"2014-11-13","c":"Spain","v":2.13},{"d":"2014-11-19","c":"Spain","v":2.17},{"d":"2014-11-23","c":"Spain","v":2.02},{"d":"2014-11-26","c":"Spain","v":1.97},{"d":"2014-11-28","c":"Spain","v":1.93},{"d":"2014-12-03","c":"Spain","v":1.86},{"d":"2014-12-06","c":"Spain","v":1.90},{"d":"2014-12-09","c":"Spain","v":1.79},{"d":"2014-12-12","c":"Spain","v":1.92},{"d":"2014-12-18","c":"Spain","v":1.80},{"d":"2014-12-20","c":"Spain","v":1.77},{"d":"2014-12-24","c":"Spain","v":1.67},{"d":"2014-12-31","c":"Spain","v":1.70},{"d":"2015-01-03","c":"Spain","v":1.52},{"d":"2015-01-06","c":"Spain","v":1.56},{"d":"2015-01-10","c":"Spain","v":1.73},{"d":"2015-01-15","c":"Spain","v":1.55},{"d":"2015-01-21","c":"Spain","v":1.53},{"d":"2015-01-23","c":"Spain","v":1.49},{"d":"2015-01-29","c":"Spain","v":1.48},{"d":"2015-01-31","c":"Spain","v":1.54},{"d":"2015-02-03","c":"Spain","v":1.53},{"d":"2015-02-06","c":"Spain","v":1.47},{"d":"2015-02-12","c":"Spain","v":1.675},{"d":"2015-02-19","c":"Spain","v":1.65},{"d":"2015-02-24","c":"Spain","v":1.49},{"d":"2015-02-27","c":"Spain","v":1.33},{"d":"2015-03-04","c":"Spain","v":1.365},{"d":"2015-03-09","c":"Spain","v":1.30},{"d":"2015-03-13","c":"Spain","v":1.15},{"d":"2015-03-18","c":"Spain","v":1.16},{"d":"2015-03-19","c":"Spain","v":1.32},{"d":"2015-03-21","c":"Spain","v":1.14},{"d":"2015-03-26","c":"Spain","v":1.29},{"d":"2015-03-28","c":"Spain","v":1.30},{"d":"2015-04-02","c":"Spain","v":1.20},{"d":"2015-04-08","c":"Spain","v":1.18},{"d":"2015-04-10","c":"Spain","v":1.23}
]},
"mark":{"type":"line","strokeWidth":3.2,"strokeJoin":"round"},
"encoding":{
"x":{"field":"d","type":"temporal","scale":{"type":"utc","domain":[{"year":2014,"month":1,"date":1,"utc":true},{"year":2015,"month":4,"date":11,"utc":true}]},
 "axis":{"title":null,"tickCount":{"interval":"month","step":2},"format":"%b-%y","labelAngle":0,"labelFlush":false,"labelOverlap":false,"labelFont":"Liberation Serif","labelFontSize":25,"labelColor":"#000000","labelPadding":9,"tickSize":8,"tickColor":"#bfbfbf","tickWidth":1.5,"domainColor":"#bfbfbf","domainWidth":2,"grid":false}},
"y":{"field":"v","type":"quantitative","scale":{"domain":[0,4],"nice":false,"zero":true},
 "axis":{"values":[0,1,2,3,4],"format":"d","grid":true,"gridColor":"#8c8c8c","gridWidth":1,"domainColor":"#bfbfbf","domainWidth":1.5,"tickColor":"#8c8c8c","tickSize":8,"labelPadding":15,"labelFont":"Liberation Serif","labelFontSize":25,"labelColor":"#000000","title":"Percent","titleAngle":0,"titleAlign":"left","titleBaseline":"alphabetic","titleX":-33,"titleY":-22,"titleFont":"Liberation Serif","titleFontSize":26,"titleFontWeight":"bold","titleColor":"#000000"}},
"color":{"field":"c","type":"nominal","sort":null,"scale":{"domain":["U.S.","U.K.","Germany","France","Italy","Spain"],"range":["#000000","#aa4643","#89a54e","#71588f","#0070c0","#db843d"]},
 "legend":{"orient":"none","legendX":287,"legendY":642,"columns":2,"direction":"horizontal","title":null,"symbolType":"stroke","symbolSize":1600,"symbolStrokeWidth":3,"labelFont":"Liberation Serif","labelFontSize":25,"labelColor":"#000000","labelOffset":1,"columnPadding":42,"rowPadding":10,"padding":0,"labelLimit":300}}
}},
{"data":{"values":[{"d":"2014-04-03"}]},"mark":{"type":"rule","color":"#00b0f0","strokeWidth":3.5,"strokeDash":[8,4]},"encoding":{"x":{"field":"d","type":"temporal","axis":null}}},
{"data":{"values":[{"d":"2015-01-22"}]},"mark":{"type":"rule","color":"#00b050","strokeWidth":3.5,"strokeDash":[8,4]},"encoding":{"x":{"field":"d","type":"temporal","axis":null}}},
{"data":{"values":[{"d":"2015-03-09"}]},"mark":{"type":"rule","color":"#ff0000","strokeWidth":3.5,"strokeDash":[8,4]},"encoding":{"x":{"field":"d","type":"temporal","axis":null}}},
{"data":{"values":[{"d":"2014-04-10","v":3.874,"t":"04/03/14"},{"d":"2014-04-10","v":3.718,"t":"ECB considers QE"}]},"mark":{"type":"text","align":"left","baseline":"middle","color":"#00b0f0","font":"Liberation Serif","fontSize":26},"encoding":{"x":{"field":"d","type":"temporal","axis":null},"y":{"field":"v","type":"quantitative","axis":null},"text":{"field":"t"}}},
{"data":{"values":[{"d":"2014-10-28","v":3.884,"t":"01/22/15"},{"d":"2014-10-28","v":3.728,"t":"ECB announces QE"}]},"mark":{"type":"text","align":"left","baseline":"middle","color":"#00b050","font":"Liberation Serif","fontSize":26},"encoding":{"x":{"field":"d","type":"temporal","axis":null},"y":{"field":"v","type":"quantitative","axis":null},"text":{"field":"t"}}},
{"data":{"values":[{"d":"2014-12-27","v":3.345,"t":"03/09/15"},{"d":"2014-12-27","v":3.189,"t":"ECB begins QE"}]},"mark":{"type":"text","align":"left","baseline":"middle","color":"#ff0000","font":"Liberation Serif","fontSize":26},"encoding":{"x":{"field":"d","type":"temporal","axis":null},"y":{"field":"v","type":"quantitative","axis":null},"text":{"field":"t"}}}
]
}
